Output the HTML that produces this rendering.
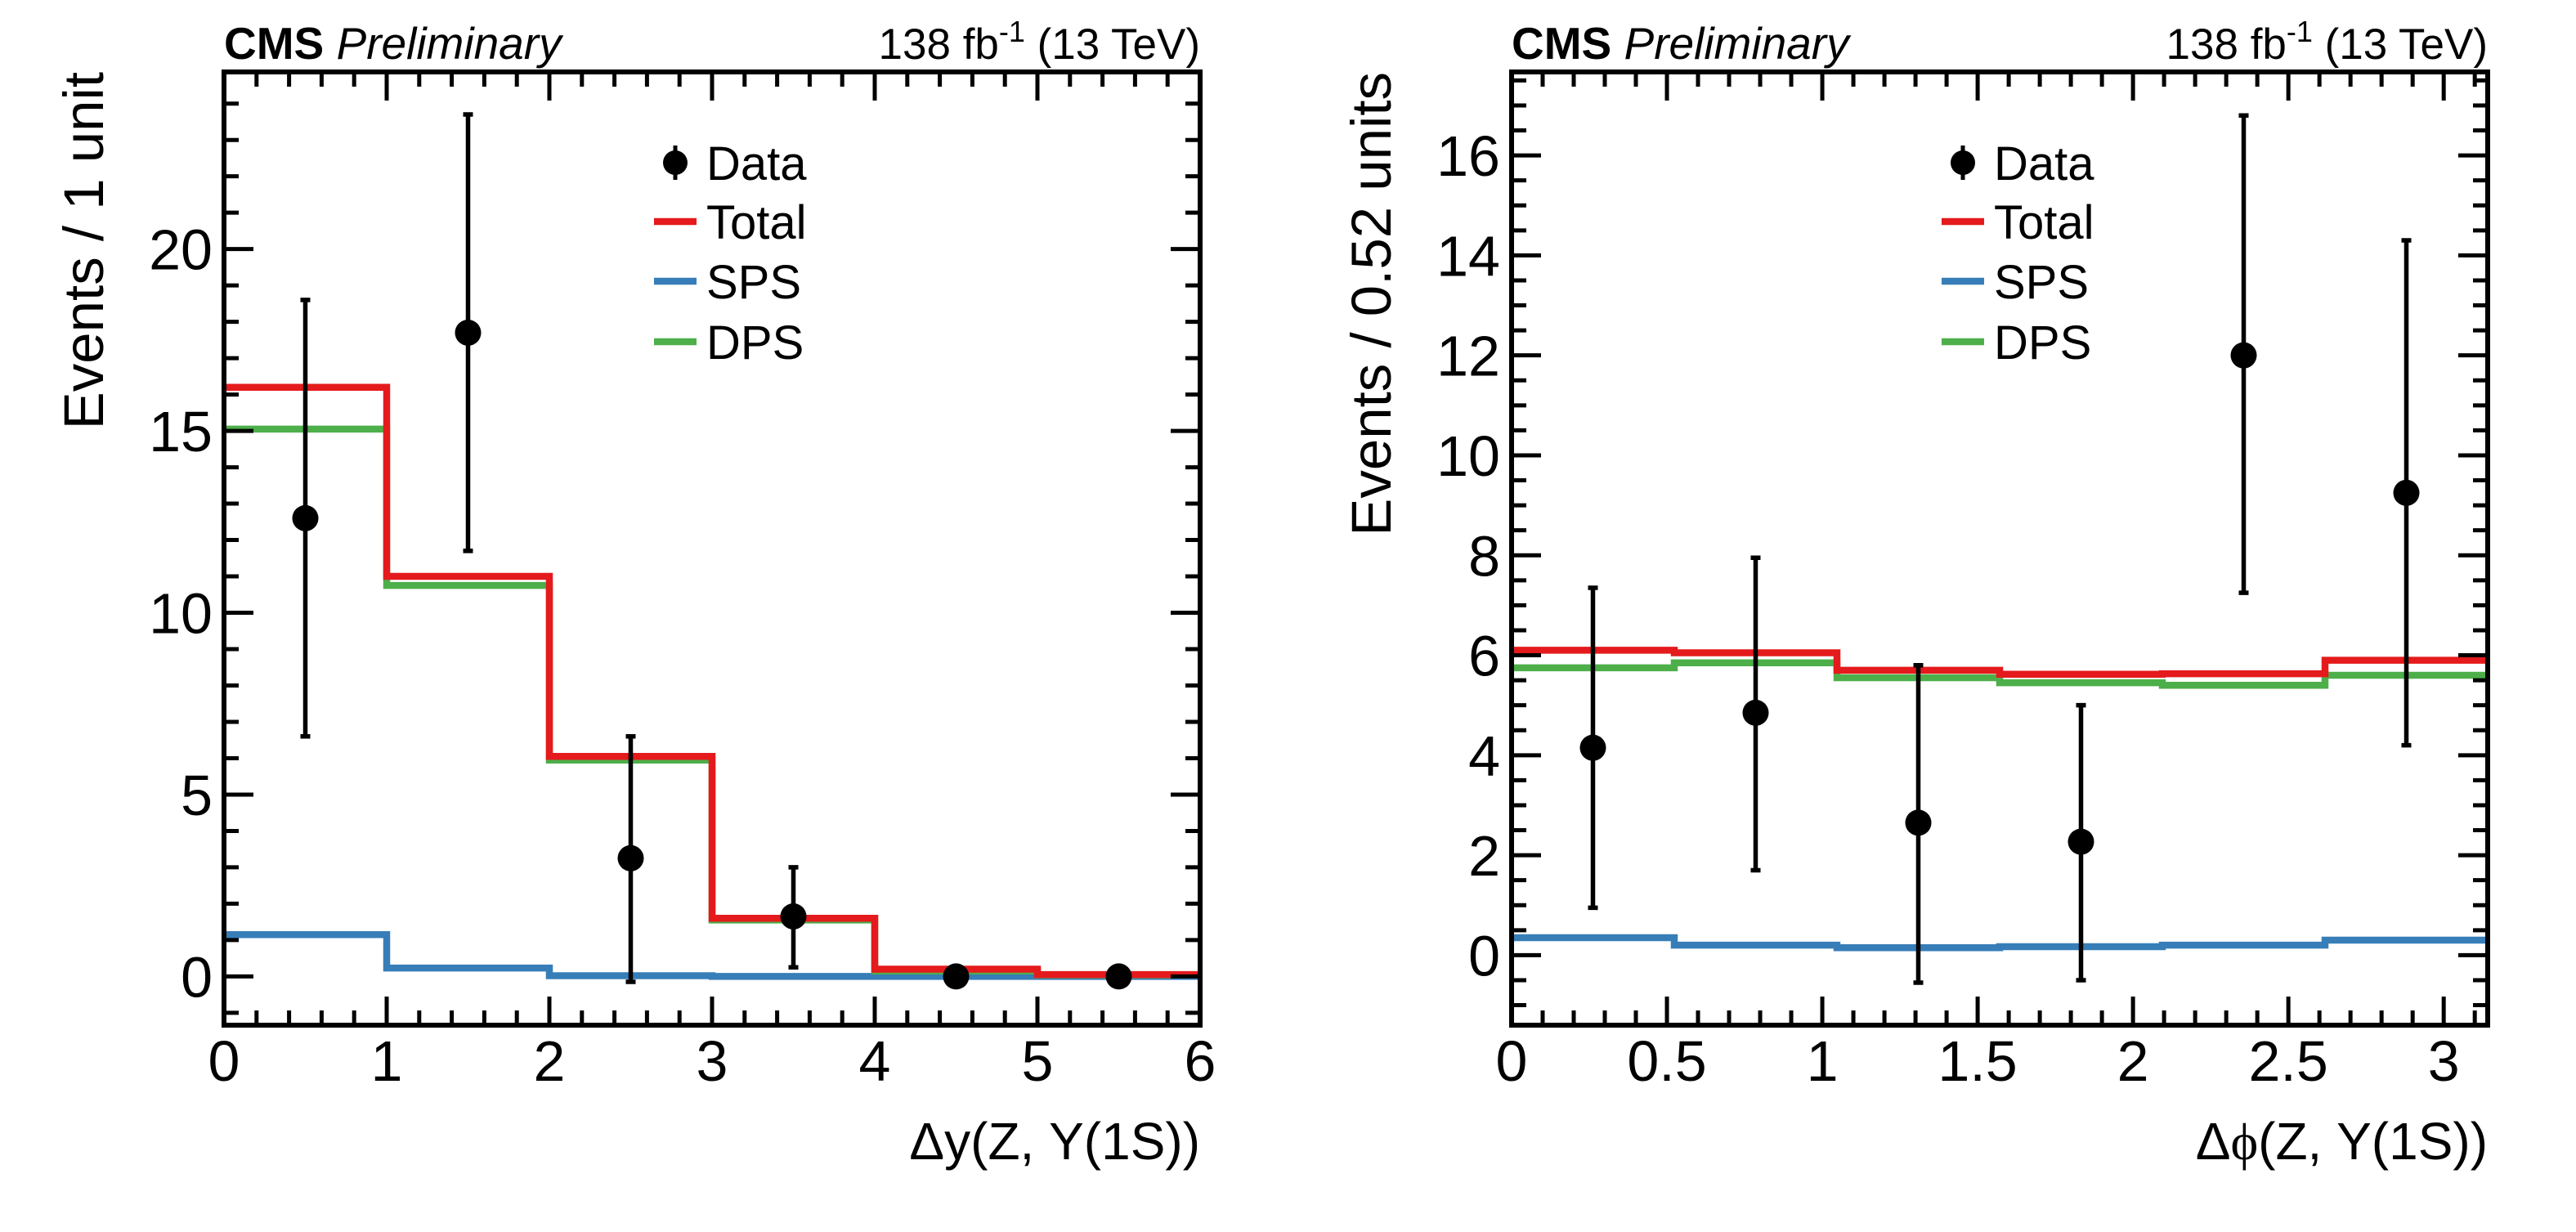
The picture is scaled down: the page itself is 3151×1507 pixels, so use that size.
<!DOCTYPE html>
<html><head><meta charset="utf-8">
<style>
html,body{margin:0;padding:0;background:#fff;}
svg{display:block;font-family:"Liberation Sans",sans-serif;}
</style></head>
<body>
<svg id="fig" width="3151" height="1507" viewBox="0 0 3151 1507" xmlns="http://www.w3.org/2000/svg"></svg>
<script>
// ---- Left panel data (Delta y) ----
const leftEdges = [0,1,2,3,4,5,6];
const leftTotal = [16.2, 11.0, 6.05, 1.6, 0.2, 0.05];
const leftDPS = [15.05, 10.75, 5.95, 1.55, 0.15, 0.04];
const leftSPS = [1.15, 0.23, 0.02, 0.0, 0.0, 0.0];
const leftDataX = [0.5,1.5,2.5,3.5,4.5,5.5];
const leftDataY = [12.6, 17.7, 3.25, 1.65, 0, 0];
const leftErrHi = [18.6, 23.7, 6.6, 3.0, 0, 0];
const leftErrLo = [6.6, 11.7, -0.15, 0.25, 0, 0];
const leftXTicks = [0,1,2,3,4,5,6];
const leftYTicks = [0,5,10,15,20];
// ---- Right panel data (Delta phi) ----
const PI = Math.PI;
const rightEdges = [0, PI/6, 2*PI/6, 3*PI/6, 4*PI/6, 5*PI/6, PI];
const rightTotal = [6.1, 6.05, 5.7, 5.62, 5.63, 5.9];
const rightDPS = [5.75, 5.85, 5.55, 5.45, 5.4, 5.6];
const rightSPS = [0.35, 0.2, 0.15, 0.17, 0.2, 0.3];
const rightDataX = [0.2618, 0.7854, 1.309, 1.8326, 2.3562, 2.8798];
const rightDataY = [4.15, 4.85, 2.65, 2.27, 12.0, 9.25];
const rightErrHi = [7.35, 7.95, 5.8, 5.0, 16.8, 14.3];
const rightErrLo = [0.95, 1.7, -0.55, -0.5, 7.25, 4.2];
const rightXTicks = [0,0.5,1,1.5,2,2.5,3];
const rightXTickLabels = ["0","0.5","1","1.5","2","2.5","3"];
const rightYTicks = [0,2,4,6,8,10,12,14,16];

const NS="http://www.w3.org/2000/svg";
const svg=document.getElementById('fig');
function mk(tag,attrs,parent){const e=document.createElementNS(NS,tag);for(const k in attrs)e.setAttribute(k,attrs[k]);(parent||svg).appendChild(e);return e;}
const RED="#e41a1c",BLUE="#377eb8",GREEN="#4daf4a";

function panel(o){
  const g=mk('g',{});
  
  
  const L=o.x0,R=o.x0+1194,T=88,B=1254;
  const sx=v=>L+(v-o.xmin)/(o.xmax-o.xmin)*(R-L);
  const sy=v=>B-(v-o.ymin)/(o.ymax-o.ymin)*(B-T);
  function hist(vals,col,nm){
    let d='';
    for(let i=0;i<vals.length;i++){
      const x1=sx(o.edges[i]),x2=sx(o.edges[i+1]),y=sy(vals[i]);
      d+=(i===0?'M':'L')+x1+','+y+'L'+x2+','+y;
    }
    const p=mk('path',{d:d,fill:'none',stroke:col,'stroke-width':8.5},g);
    
    
  }
  hist(o.sps,BLUE,'sps-histogram');
  hist(o.dps,GREEN,'dps-histogram');
  hist(o.total,RED,'total-histogram');
  for(let i=0;i<o.dx.length;i++){
    const cx=sx(o.dx[i]);
    if(o.hi[i]!==o.lo[i]){
      const e=mk('path',{d:`M${cx},${sy(o.hi[i])}L${cx},${sy(o.lo[i])}M${cx-6},${sy(o.hi[i])}L${cx+6},${sy(o.hi[i])}M${cx-6},${sy(o.lo[i])}L${cx+6},${sy(o.lo[i])}`,stroke:'#000','stroke-width':5.5,fill:'none'},g);
      
      
    }
    const c=mk('circle',{cx:cx,cy:sy(o.dy[i]),r:16,fill:'#000'},g);
    
    
  }
  let td='';
  for(let v=o.xmin;v<=o.xmax+1e-9;v+=o.xminor){
    const x=sx(v);const isMaj=Math.abs(v/o.xmajor-Math.round(v/o.xmajor))<1e-6;
    const len=isMaj?35:18;
    td+=`M${x},${B}L${x},${B-len}M${x},${T}L${x},${T+len}`;
  }
  const y0=Math.ceil(o.ymin/o.yminor)*o.yminor;
  for(let v=y0;v<=o.ymax+1e-9;v+=o.yminor){
    const y=sy(v);const isMaj=Math.abs(v/o.ymajor-Math.round(v/o.ymajor))<1e-6;
    const len=isMaj?36:18;
    td+=`M${L},${y}L${L+len},${y}M${R},${y}L${R-len},${y}`;
  }
  const t=mk('path',{d:td,stroke:'#000','stroke-width':5,fill:'none'},g);
  
  
  const fr=mk('rect',{x:L,y:T,width:R-L,height:B-T,fill:'none',stroke:'#000','stroke-width':6},g);
  
  
  o.xt.forEach((v,i)=>{
    const tx=mk('text',{x:sx(v),y:1322,'font-size':70,'text-anchor':'middle'},g);
    tx.textContent=o.xtl?o.xtl[i]:String(v);
    
    
  });
  o.yt.forEach(v=>{
    const ty=mk('text',{x:L-14,y:sy(v)+25,'font-size':70,'text-anchor':'end'},g);
    ty.textContent=String(v);
    
    
  });
  const xt=mk('text',{x:R,y:1418,'font-size':64,'text-anchor':'end'},g);
  xt.innerHTML=o.xtitle;
  
  
  const yt=mk('text',{x:0,y:0,'font-size':69,'text-anchor':'end',transform:`translate(${L-148},${T}) rotate(-90)`},g);
  yt.textContent=o.ytitle;
  
  
  const cms=mk('text',{x:L,y:72,'font-size':55},g);
  cms.innerHTML='<tspan font-weight="bold">CMS</tspan> <tspan font-style="italic">Preliminary</tspan>';
  
  
  const lumi=mk('text',{x:R,y:72,'font-size':53,'text-anchor':'end'},g);
  lumi.innerHTML='138 fb<tspan dy="-21" font-size="36">-1</tspan><tspan dy="21"> (13 TeV)</tspan>';
  
  
  const lx=o.x0+526, rows=[199,271,344,418];
  const lg=mk('g',{},g);
  
  
  const ent=[['Data',null],['Total',RED],['SPS',BLUE],['DPS',GREEN]];
  ent.forEach((e,i)=>{
    const y=rows[i];
    if(e[1]){mk('line',{x1:lx,x2:lx+52,y1:y,y2:y,stroke:e[1],'stroke-width':8.5},lg);}
    else{mk('line',{x1:lx+26,x2:lx+26,y1:y-21,y2:y+21,stroke:'#000','stroke-width':5},lg);mk('circle',{cx:lx+26,cy:y,r:15,fill:'#000'},lg);}
    const tx=mk('text',{x:lx+64,y:y+21,'font-size':58},lg);
    tx.textContent=e[0];
    
    
  });
}
panel({name:'left-panel',x0:274,xmin:0,xmax:6,ymin:-1.34,ymax:24.87,edges:leftEdges,total:leftTotal,dps:leftDPS,sps:leftSPS,dx:leftDataX,dy:leftDataY,hi:leftErrHi,lo:leftErrLo,xt:leftXTicks,yt:leftYTicks,xmajor:1,xminor:0.2,ymajor:5,yminor:1,xtitle:'Δy(Z, Υ(1S))',ytitle:'Events / 1 unit'});
panel({name:'right-panel',x0:1849,xmin:0,xmax:PI,ymin:-1.40,ymax:17.67,edges:rightEdges,total:rightTotal,dps:rightDPS,sps:rightSPS,dx:rightDataX,dy:rightDataY,hi:rightErrHi,lo:rightErrLo,xt:rightXTicks,xtl:rightXTickLabels,yt:rightYTicks,xmajor:0.5,xminor:0.1,ymajor:2,yminor:0.5,xtitle:'Δ<tspan font-family="Liberation Serif">ϕ</tspan>(Z, Υ(1S))',ytitle:'Events / 0.52 units'});
</script>
</body></html>
